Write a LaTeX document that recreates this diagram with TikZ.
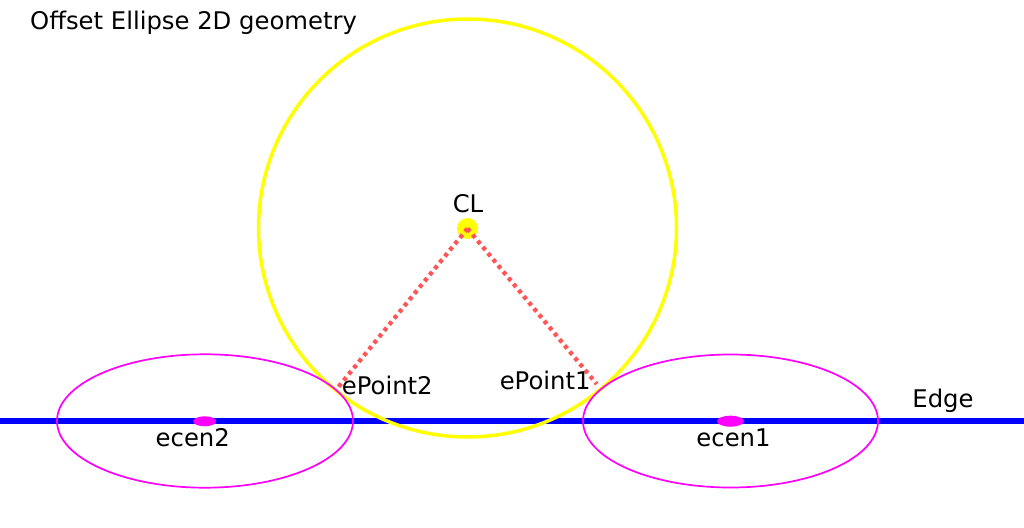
\documentclass[tikz,border=0pt]{standalone}
\usepackage{fontspec}
\setmainfont{DejaVu Sans}
\usetikzlibrary{positioning,shapes.geometric}

\definecolor{offyellow}{RGB}{255,255,0}
\definecolor{offmagenta}{RGB}{255,0,255}
\definecolor{offblue}{RGB}{0,0,255}
\definecolor{offred}{RGB}{255,85,85}

\begin{document}
\begin{tikzpicture}[x=1pt,y=-1pt,
  lbl/.style={inner sep=0pt, font=\fontsize{24.3}{28}\selectfont},
  cdot/.style={ellipse, fill=offmagenta, inner sep=0pt},
  link/.style={draw=offred, line width=4.3pt, dash pattern=on 4pt off 4pt}]
\useasboundingbox (0,0) rectangle (1024,527);

% title
\node (title) [lbl, anchor=base west] at (30,29.5) {Offset Ellipse 2D geometry};

% edge line
\coordinate (edgeL) at (0,421);
\coordinate (edgeR) at (1024,421);
\draw[offblue, line width=5.5pt] (edgeL) -- (edgeR);
\node (edge) [lbl, anchor=base] at (943,407.7) {Edge};

% CL circle
\draw[offyellow, line width=3.5pt] (467.5,228) circle[radius=209];
\node (cl) [circle, fill=offyellow, minimum size=21pt, inner sep=0pt] at (467.5,228.5) {};
\node (cllabel) [lbl, anchor=base] at (468,212.3) {CL};

% offset ellipses
\draw[offmagenta, line width=1.7pt] (205,421) ellipse[x radius=148, y radius=66.7];
\draw[offmagenta, line width=1.7pt] (730.5,421) ellipse[x radius=147.5, y radius=66.5];
\node (ecen2) [cdot, minimum width=23pt, minimum height=10pt] at (204.7,421.3) {};
\node (ecen1) [cdot, minimum width=27pt, minimum height=11pt] at (730.5,421.2) {};
\node (ecen2label) [lbl, anchor=base] at (192.8,446.7) {ecen2};
\node (ecen1label) [lbl, anchor=base] at (733.5,446.7) {ecen1};

% contact points
\coordinate (ePoint2) at (337.3,388.3);
\coordinate (ePoint1) at (596.7,384);
\draw[link] (cl.center) -- (ePoint2);
\draw[link] (cl.center) -- (ePoint1);
\node (ep2label) [lbl, anchor=base west] at (341.7,394) {ePoint2};
\node (ep1label) [lbl, anchor=base east] at (590.7,389.3) {ePoint1};
\end{tikzpicture}
\end{document}
